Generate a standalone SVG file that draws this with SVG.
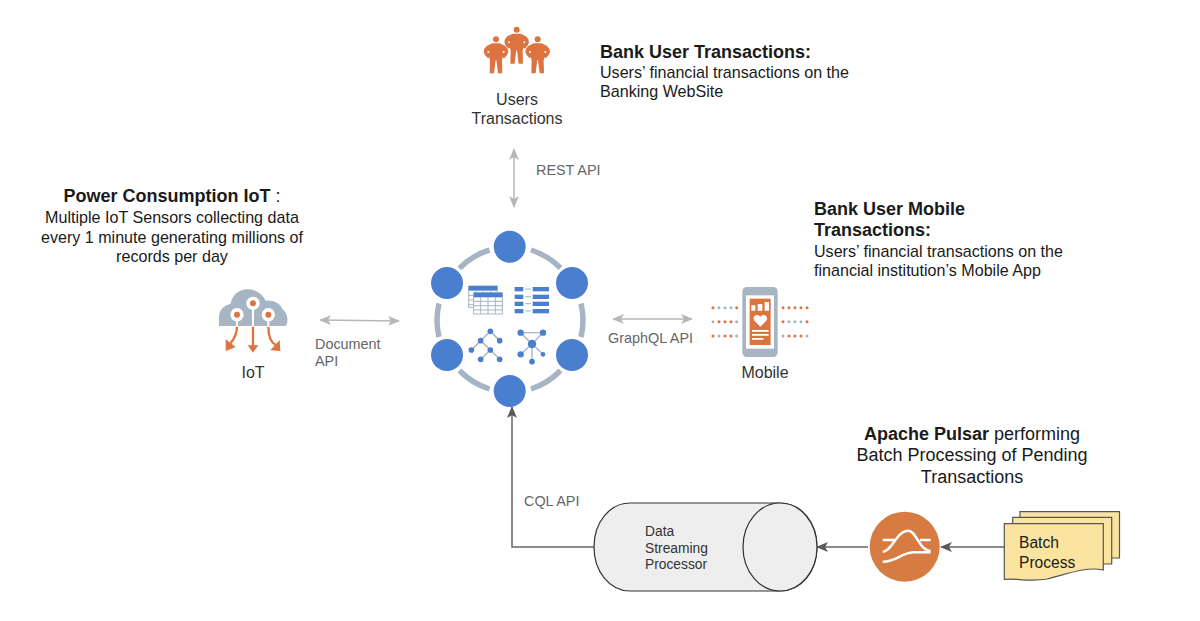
<svg xmlns="http://www.w3.org/2000/svg" width="1200" height="621" viewBox="0 0 1200 621">
<style>
text{font-family:"Liberation Sans",Arial,sans-serif;fill:#1a1a1a}
.t{font-size:16.1px}
.b{font-size:18px;font-weight:bold}
.h{font-size:18px}
.l{font-size:14.4px;fill:#666}
.n{font-size:16px;fill:#333}
.c{font-size:13.800px;fill:#333}
.d{font-size:15.600px}
.o{fill:#dd7440}
.g{fill:#a6b4c4}
.bl{fill:#4a7fd0}
.ring{fill:none;stroke:#a6b4c4;stroke-width:5.500}
.gc{fill:none;stroke:#b7b7b7;stroke-width:1.500}
.dc{fill:none;stroke:#666;stroke-width:1.500}
</style>
<defs>
<marker id="ag" viewBox="0 0 12 10" refX="11" refY="5" markerWidth="12" markerHeight="10" markerUnits="userSpaceOnUse" orient="auto-start-reverse"><path d="M0 0L12 5L0 10L3 5Z" fill="#b7b7b7"/></marker>
<marker id="ad" viewBox="0 0 12 10" refX="11" refY="5" markerWidth="12" markerHeight="10" markerUnits="userSpaceOnUse" orient="auto"><path d="M0 0L12 5L0 10L3 5Z" fill="#595959"/></marker>
<g id="person"><circle cx="0" cy="-12" r="9"/><path d="M-12 0H12L28 8Q36 14 37 26Q35 36 24 45L20 42L18 52L19 90H6L1 50H-1L-6 90H-19L-18 52L-20 42L-24 45Q-35 36 -37 26Q-36 14 -28 8Z"/><circle cx="-23" cy="26" r="3" fill="#fff"/><circle cx="23" cy="26" r="3" fill="#fff"/></g>
</defs>

<g id="connectors">
<path class="gc" d="M514 149V207" marker-start="url(#ag)" marker-end="url(#ag)"/>
<path class="gc" d="M320 320L399 321" marker-start="url(#ag)" marker-end="url(#ag)"/>
<path class="gc" d="M613 319H692" marker-start="url(#ag)" marker-end="url(#ag)"/>
<path class="dc" d="M594 547H512V407" marker-end="url(#ad)"/>
<path class="dc" d="M868 547H817" marker-end="url(#ad)"/>
<path class="dc" d="M1004 547H941" marker-end="url(#ad)"/>
</g>

<g id="hub">
<path class="ring" d="M459.400 268.400A72 72 0 0 1 489.500 250"/>
<path class="ring" d="M531 250A72 72 0 0 1 560.500 268"/>
<path class="ring" d="M581 303.500A72 72 0 0 1 581 337"/>
<path class="ring" d="M560.500 370.500A72 72 0 0 1 531 389"/>
<path class="ring" d="M489.500 389A72 72 0 0 1 459.400 370.500"/>
<path class="ring" d="M439 337A72 72 0 0 1 439 303.500"/>
<g class="bl">
<circle cx="509.700" cy="246.700" r="16"/><circle cx="572" cy="283" r="16"/><circle cx="572" cy="355" r="16"/>
<circle cx="509.700" cy="391" r="16"/><circle cx="447" cy="355" r="16"/><circle cx="447" cy="283" r="16"/>
</g>
<g id="hub-icons" transform="translate(420 220) scale(.3333)">
<rect x="146" y="198" width="86" height="64" fill="#fff" stroke="#a6b4c4" stroke-width="3"/>
<rect x="146" y="198" width="86" height="14" class="bl"/>
<path d="M146 226H232M146 240H232M146 254H232M168 212V262M190 212V262M212 212V262" stroke="#a6b4c4" stroke-width="3"/>
<rect x="161" y="218" width="86" height="64" fill="#fff" stroke="#a6b4c4" stroke-width="3"/>
<rect x="161" y="218" width="86" height="14" class="bl"/>
<path d="M161 244H247M161 257H247M161 270H247M182 232V282M204 232V282M226 232V282" stroke="#a6b4c4" stroke-width="3"/>
<g class="bl">
<rect x="284" y="201" width="26" height="13"/><rect x="338" y="201" width="49" height="13"/>
<rect x="284" y="224" width="26" height="13"/><rect x="338" y="224" width="49" height="13"/>
<rect x="284" y="245" width="26" height="13"/><rect x="338" y="245" width="49" height="13"/>
<rect x="284" y="267" width="26" height="13"/><rect x="338" y="267" width="49" height="13"/>
</g>
<path d="M316 207H333M316 230H333M316 251H333M316 273H333" stroke="#a6b4c4" stroke-width="3"/>
<path d="M211 334L154 390M211 334L239 362M182 362L211 390L182 418M211 390L239 418" stroke="#a6b4c4" stroke-width="4.500" fill="none"/>
<g class="bl"><circle cx="211" cy="334" r="8.500"/><circle cx="182" cy="362" r="8.500"/><circle cx="239" cy="362" r="8.500"/><circle cx="154" cy="390" r="8.500"/><circle cx="211" cy="390" r="8.500"/><circle cx="182" cy="418" r="8.500"/><circle cx="239" cy="418" r="8.500"/></g>
<path d="M302 338H369M302 338L336 372M369 338L336 372M336 372L302 403M336 372V425M336 372L369 403" stroke="#a6b4c4" stroke-width="4" fill="none"/>
<g class="bl"><circle cx="302" cy="338" r="9.500"/><circle cx="369" cy="338" r="9.500"/><circle cx="336" cy="372" r="12.500"/><circle cx="302" cy="403" r="9.500"/><circle cx="369" cy="403" r="7"/><circle cx="336" cy="425" r="8.500"/></g>
</g>
</g>

<g id="users">
<g class="o" transform="translate(470 20) scale(.3333)">
<use href="#person" transform="translate(78 70)"/>
<use href="#person" transform="translate(140 41)"/>
<use href="#person" transform="translate(203 70)"/>
</g>
<text class="n" x="517" y="105" text-anchor="middle">Users</text>
<text class="n" x="517" y="124" text-anchor="middle">Transactions</text>
</g>

<g id="bank-user-note">
<text class="b" x="600" y="58">Bank User Transactions:</text>
<text class="t" x="600" y="78">Users’ financial transactions on the</text>
<text class="t" x="600" y="97">Banking WebSite</text>
</g>

<g id="iot-note">
<text class="b" x="172" y="202" text-anchor="middle">Power Consumption IoT <tspan font-weight="normal">:</tspan></text>
<text class="t" x="172" y="223" text-anchor="middle">Multiple IoT Sensors collecting data</text>
<text class="t" x="172" y="243" text-anchor="middle">every 1 minute generating millions of</text>
<text class="t" x="172" y="262" text-anchor="middle">records per day</text>
</g>

<g id="iot">
<g transform="translate(205 280) scale(.3333)">
<path class="g" d="M42 138V112C42 92 55 76 76 72C82 45 102 28 128 28C152 28 172 42 182 62C205 60 225 70 233 88C248 98 252 125 242 138Z"/>
<path d="M96 104V140M144 70V140M190 104V140" stroke="#fff" stroke-width="6"/>
<circle cx="96" cy="104" r="20" fill="#fff"/><circle cx="144" cy="70" r="20" fill="#fff"/><circle cx="190" cy="104" r="20" fill="#fff"/>
<circle cx="96" cy="104" r="9" class="o"/><circle cx="144" cy="70" r="9" class="o"/><circle cx="190" cy="104" r="9" class="o"/>
<g fill="none" stroke="#dd7440" stroke-width="7"><path d="M96 140C96 165 85 180 75 192"/><path d="M144 140V200"/><path d="M190 140C190 165 195 185 212 195"/></g>
<path class="o" d="M128 196H160L144 218ZM62 178L92 201L62 213ZM224 180L226 213L196 211Z"/>
</g>
<text class="n" x="253" y="378" text-anchor="middle">IoT</text>
</g>

<g id="labels">
<text class="l" x="536" y="175">REST API</text>
<text class="l" x="315" y="349">Document</text>
<text class="l" x="315" y="366">API</text>
<text class="l" x="608" y="343">GraphQL API</text>
<text class="l" x="524" y="506">CQL API</text>
</g>

<g id="mobile-note">
<text class="b" x="814" y="215">Bank User Mobile</text>
<text class="b" x="814" y="236">Transactions:</text>
<text class="t" x="814" y="257">Users’ financial transactions on the</text>
<text class="t" x="814" y="276">financial institution’s Mobile App</text>
</g>

<g id="mobile">
<g transform="translate(700 280) scale(.3333)">
<rect x="127" y="21" width="106" height="210" rx="14" class="g"/>
<rect x="138" y="46" width="84" height="160" fill="#fff"/>
<rect x="149" y="56" width="63" height="139" class="o"/>
<path d="M154 76h12v16h-12zM173 72h14v20h-14zM194 66h13v26h-13zM156 150h50v5h-50zM156 162h50v5h-50zM156 174h34v5h-34z" fill="#fff"/>
<path d="M181 140L163 122C155 110 170 98 181 110C192 98 207 110 199 122Z" fill="#fff"/>
<g class="o"><circle cx="39" cy="83" r="4.500"/><circle cx="57" cy="83" r="4.500" class="g"/><circle cx="75" cy="83" r="4.500" class="g"/><circle cx="93" cy="83" r="4.500" class="g"/><circle cx="110" cy="83" r="4.500"/>
<circle cx="39" cy="125" r="4.500" class="g"/><circle cx="57" cy="125" r="4.500"/><circle cx="75" cy="125" r="4.500"/><circle cx="93" cy="125" r="4.500"/><circle cx="110" cy="125" r="4.500" class="g"/>
<circle cx="39" cy="168" r="4.500"/><circle cx="57" cy="168" r="4.500" class="g"/><circle cx="75" cy="168" r="4.500"/><circle cx="93" cy="168" r="4.500"/><circle cx="110" cy="168" r="4.500" class="g"/>
<circle cx="249" cy="83" r="4.500"/><circle cx="267" cy="83" r="4.500"/><circle cx="285" cy="83" r="4.500"/><circle cx="303" cy="83" r="4.500"/><circle cx="321" cy="83" r="4.500"/>
<circle cx="249" cy="125" r="4.500"/><circle cx="267" cy="125" r="4.500" class="g"/><circle cx="285" cy="125" r="4.500" class="g"/><circle cx="303" cy="125" r="4.500" class="g"/><circle cx="321" cy="125" r="4.500"/>
<circle cx="249" cy="168" r="4.500" class="g"/><circle cx="267" cy="168" r="4.500"/><circle cx="285" cy="168" r="4.500"/><circle cx="303" cy="168" r="4.500"/><circle cx="321" cy="168" r="4.500" class="g"/></g>
</g>
<text class="n" x="765" y="378" text-anchor="middle">Mobile</text>
</g>

<g id="pulsar-note">
<text class="h" x="972" y="440" text-anchor="middle"><tspan font-weight="bold">Apache Pulsar</tspan> performing</text>
<text class="h" x="972" y="461" text-anchor="middle">Batch Processing of Pending</text>
<text class="h" x="972" y="483" text-anchor="middle">Transactions</text>
</g>

<g id="streaming-processor">
<path d="M630 503H780C801 503 817 522 817 547C817 572 801 591 780 591H630C610 591 594 572 594 547C594 522 610 503 630 503Z" fill="#eee" stroke="#333" stroke-width="1.200"/>
<ellipse cx="780" cy="547" rx="37" ry="44" fill="#eee" stroke="#333" stroke-width="1.200"/>
<text class="c" x="645" y="535.500">Data</text>
<text class="c" x="645" y="552.500">Streaming</text>
<text class="c" x="645" y="569">Processor</text>
</g>

<g id="pulsar">
<circle cx="904.700" cy="546.700" r="35" fill="#d67c42"/>
<g fill="none" stroke="#fff" transform="translate(860 500) scale(.3333)">
<path stroke-width="7.500" d="M68 120H108M180 120H212M68 155C95 155 110 92 145 92C170 92 175 150 212 153M68 185C110 185 120 160 160 157H212"/>
</g>
</g>

<g id="batch-process">
<g fill="#fbe4a0" stroke="#555" stroke-width="1.200">
<path d="M1020 511.700H1119.500V558H1020Z"/>
<path d="M1012.700 517.300H1111.700V564H1012.700Z"/>
<path d="M1004.300 523.700H1103.300V570C1085 566 1065 575 1047 579C1030 582 1015 578 1004.300 579.300Z"/>
</g>
<text class="d" x="1019" y="548">Batch</text>
<text class="d" x="1019" y="568">Process</text>
</g>
</svg>
